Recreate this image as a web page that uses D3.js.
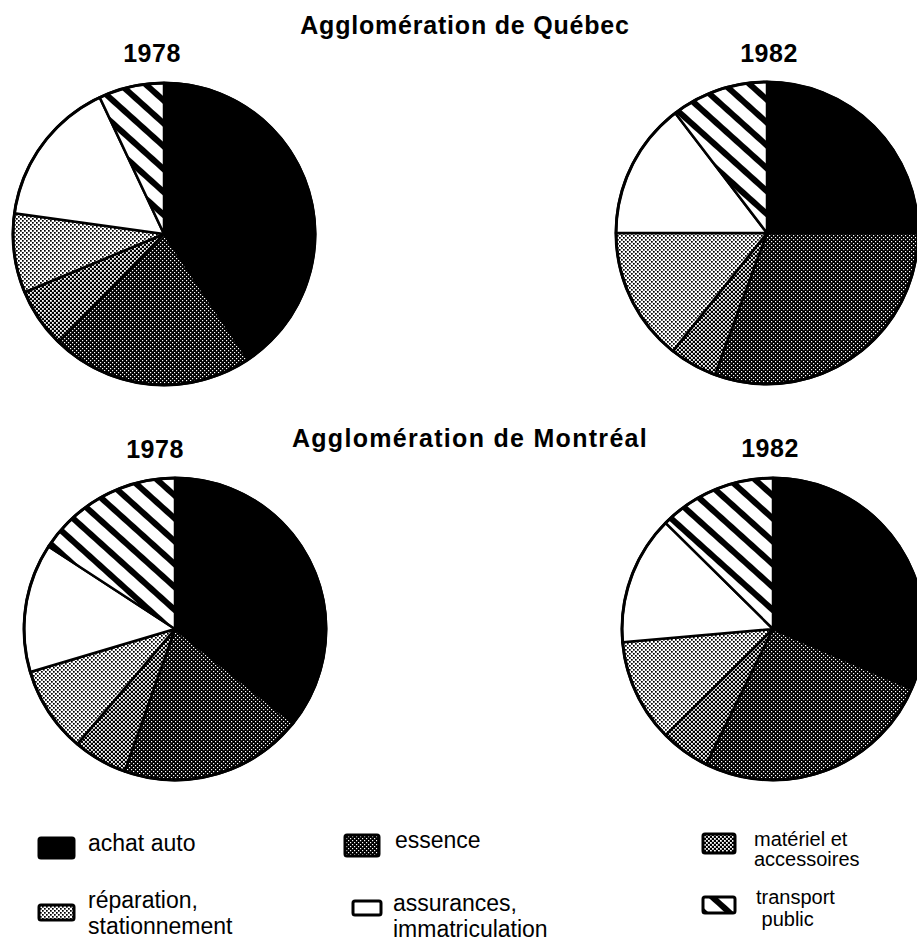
<!DOCTYPE html>
<html>
<head>
<meta charset="utf-8">
<script src="https://cdn.jsdelivr.net/npm/d3@7"></script>
<style>
  body { margin: 0; background: #fff; }
  text { font-family: "Liberation Sans", Arial, Helvetica, sans-serif; fill: #000; }
</style>
</head>
<body>
<div id="chart"></div>
<script>
// categories, in clockwise order from 12 o'clock
var categories = ["achat auto", "essence", "matériel et accessoires",
    "réparation, stationnement", "assurances, immatriculation", "transport public"];

// shares in %
var quebec1978 = [40.6, 21.7, 6.4, 8.5, 15.8, 7.0];
var quebec1982 = [25.0, 30.6, 5.1, 14.3, 14.6, 10.4];
var montreal1978 = [35.7, 19.7, 5.8, 9.2, 13.8, 15.8];
var montreal1982 = [31.5, 25.8, 5.3, 11.0, 13.8, 12.6];

var regions = ["Agglomération de Québec", "Agglomération de Montréal"];
var years = ["1978", "1982"];

// legend labels, split on lines as printed
var legendLines = [["achat auto"], ["essence"], ["matériel et", "accessoires"],
    ["réparation,", "stationnement"], ["assurances,", "immatriculation"], ["transport", " public"]];

var width = 917, height = 941;

var svg = d3.select("#chart").append("svg")
    .attr("width", width)
    .attr("height", height);

var defs = svg.append("defs");

// dark dotted (essence)
var p1 = defs.append("pattern").attr("id", "dotsDark")
    .attr("patternUnits", "userSpaceOnUse").attr("width", 4).attr("height", 4);
p1.append("rect").attr("width", 4).attr("height", 4).attr("fill", "#000");
p1.append("rect").attr("x", 0).attr("y", 0).attr("width", 1.2).attr("height", 1.2).attr("fill", "#fff");
p1.append("rect").attr("x", 2).attr("y", 2).attr("width", 1.2).attr("height", 1.2).attr("fill", "#fff");

// medium checker (matériel)
var p2 = defs.append("pattern").attr("id", "dotsMid")
    .attr("patternUnits", "userSpaceOnUse").attr("width", 4).attr("height", 4);
p2.append("rect").attr("width", 4).attr("height", 4).attr("fill", "#000");
p2.append("rect").attr("x", 0).attr("y", 0).attr("width", 1.8).attr("height", 1.8).attr("fill", "#fff");
p2.append("rect").attr("x", 2).attr("y", 2).attr("width", 1.8).attr("height", 1.8).attr("fill", "#fff");

// light dotted (réparation)
var p3 = defs.append("pattern").attr("id", "dotsLight")
    .attr("patternUnits", "userSpaceOnUse").attr("width", 4).attr("height", 4);
p3.append("rect").attr("width", 4).attr("height", 4).attr("fill", "#fff");
p3.append("rect").attr("x", 0).attr("y", 0).attr("width", 1.7).attr("height", 1.7).attr("fill", "#000");
p3.append("rect").attr("x", 2).attr("y", 2).attr("width", 1.7).attr("height", 1.7).attr("fill", "#000");

// diagonal stripes (transport public)
var p4 = defs.append("pattern").attr("id", "hatch")
    .attr("patternUnits", "userSpaceOnUse").attr("width", 17).attr("height", 17)
    .attr("patternTransform", "rotate(42)");
p4.append("rect").attr("width", 17).attr("height", 17).attr("fill", "#fff");
p4.append("rect").attr("width", 17).attr("height", 6).attr("fill", "#000");

var fills = d3.scaleOrdinal()
    .domain(categories)
    .range(["#000", "url(#dotsDark)", "url(#dotsMid)", "url(#dotsLight)", "#fff", "url(#hatch)"]);

var pie = d3.pie().sort(null).value(function(d) { return d; });
var radius = 151;
var arc = d3.arc().innerRadius(0).outerRadius(radius);

// one entry per pie, placed on the page
var pies = [
    {values: quebec1978, cx: 164, cy: 234, year: years[0], yx: 152, yy: 62},
    {values: quebec1982, cx: 767, cy: 233, year: years[1], yx: 769, yy: 62},
    {values: montreal1978, cx: 175, cy: 629, year: years[0], yx: 155, yy: 458},
    {values: montreal1982, cx: 773, cy: 629, year: years[1], yx: 770, yy: 457}
];

pies.forEach(function(p) {
    var g = svg.append("g").attr("transform", "translate(" + p.cx + "," + p.cy + ")");
    g.selectAll("path")
        .data(pie(p.values))
        .enter()
        .append("path")
        .attr("d", arc)
        .attr("fill", function(d, i) { return fills(categories[i]); })
        .attr("stroke", "#000")
        .attr("stroke-width", 2.5)
        .attr("stroke-linejoin", "round");
    g.append("circle").attr("r", radius)
        .attr("fill", "none").attr("stroke", "#000").attr("stroke-width", 3);

    svg.append("text")
        .attr("x", p.yx).attr("y", p.yy)
        .attr("text-anchor", "middle")
        .attr("font-size", 25).attr("font-weight", "bold")
        .attr("letter-spacing", 0.5)
        .text(p.year);
});

// region titles
svg.append("text").attr("x", 465).attr("y", 34)
    .attr("text-anchor", "middle").attr("font-size", 25).attr("font-weight", "bold")
    .attr("letter-spacing", 0.8).text(regions[0]);
svg.append("text").attr("x", 470).attr("y", 447)
    .attr("text-anchor", "middle").attr("font-size", 25).attr("font-weight", "bold")
    .attr("letter-spacing", 1.3).text(regions[1]);

// legend: swatch box, text x, baselines
var legendLayout = [
    {x: 39, y: 838, w: 35, h: 20, tx: 88, ty: [851], fs: 23},
    {x: 345, y: 835, w: 34, h: 21, tx: 395, ty: [848], fs: 23},
    {x: 703, y: 834, w: 32, h: 19, tx: 754, ty: [846, 866], fs: 20},
    {x: 39, y: 905, w: 35, h: 15, tx: 88, ty: [908, 934], fs: 23},
    {x: 353, y: 901, w: 28, h: 14, tx: 393, ty: [911, 937], fs: 23},
    {x: 703, y: 897, w: 32, h: 16, tx: 756, ty: [904, 926], fs: 20}
];

var legend = svg.selectAll("g.legend")
    .data(categories)
    .enter()
    .append("g")
    .attr("class", "legend");

legend.append("rect")
    .attr("x", function(d, i) { return legendLayout[i].x; })
    .attr("y", function(d, i) { return legendLayout[i].y; })
    .attr("width", function(d, i) { return legendLayout[i].w; })
    .attr("height", function(d, i) { return legendLayout[i].h; })
    .attr("rx", 2)
    .attr("fill", function(d) { return fills(d); })
    .attr("stroke", "#000")
    .attr("stroke-width", 3);

legend.each(function(d, i) {
    var L = legendLayout[i];
    d3.select(this).selectAll("text")
        .data(legendLines[i])
        .enter()
        .append("text")
        .attr("x", L.tx)
        .attr("y", function(t, j) { return L.ty[j]; })
        .attr("font-size", L.fs)
        .attr("xml:space", "preserve")
        .style("white-space", "pre")
        .text(function(t) { return t; });
});
</script>
</body>
</html>
